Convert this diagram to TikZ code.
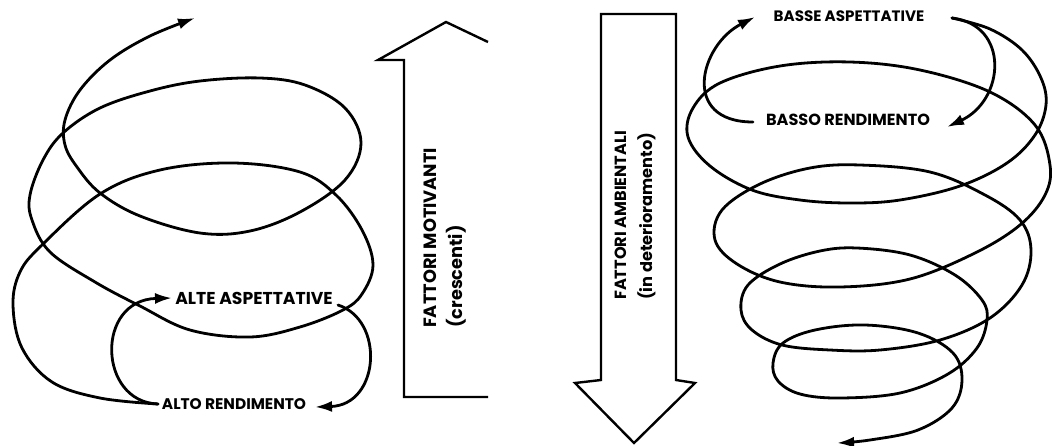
\documentclass[tikz,border=0pt]{standalone}
\usepackage{fontspec}
\setmainfont{Poppins}
\usetikzlibrary{arrows.meta}

\begin{document}
\begin{tikzpicture}[x=1pt, y=-1pt,
  spira/.style={line width=2.8pt, line cap=round, line join=round},
  punta/.style={-{Latex[length=17pt, width=11pt]}},
  freccione/.style={line width=2.4pt, line join=miter},
  etich/.style={inner sep=0pt, font=\fontsize{#1}{20}\selectfont\bfseries},
  fattori/.style={rotate=90, align=left, inner sep=0pt, font=\fontsize{#1}{26}\selectfont\bfseries}]
\useasboundingbox (0,0) rectangle (1052,445);

% spirale di sinistra
\node[etich=17.2] (alteAsp) at (254,298) {ALTE ASPETTATIVE};
\node[etich=15.4] (altoRend) at (234,404) {ALTO RENDIMENTO};
\coordinate (altoS) at (158,404);
\coordinate (alteD) at (338,305);
\draw[spira, punta] (altoS) .. controls (98,402) and (95,300) .. (172,298);
\draw[spira, punta] (alteD) .. controls (385,320) and (380,405) .. (315,407);
\draw[spira, punta] plot[smooth, tension=0.6] coordinates {(altoS) (100,398) (52,382) (22,348) (13,305)
  (20,272) (42,245) (100,194) (160,170) (233,163) (300,172) (336,195) (362,230) (373,265) (362,294)
  (343,310) (300,327) (250,337) (190,330) (140,306) (95,282) (50,252) (32,220) (30,195) (43,160)
  (63,133) (100,108) (150,91) (200,81) (260,78) (305,85) (345,108) (361,143) (345,180) (300,212)
  (250,231) (200,233) (140,216) (100,193) (77,167) (65,145) (65,120) (80,90) (110,60) (150,36) (195,18)};

% freccia in salita
\draw[freccione] (488,397) -- (404,397) -- (404,60) -- (378,60) -- (446,22) -- (488,42);
\node[fattori=17.8, anchor=west] (motiv) at (445,328) {FATTORI MOTIVANTI\\(crescenti)};

% freccia in discesa
\draw[freccione] (601,14) -- (676,14) -- (676,380) -- (695,383) -- (634,443) -- (575,383) -- (601,380) -- cycle;
\node[fattori=16.2, anchor=west] (ambient) at (635,300) {FATTORI AMBIENTALI\\(in deterioramento)};

% spirale di destra
\node[etich=15.1] (basseAsp) at (849,16) {BASSE ASPETTATIVE};
\node[etich=16.1] (bassoRend) at (848,120) {BASSO RENDIMENTO};
\coordinate (basseD) at (952,18);
\coordinate (bassoS) at (753,122);
\draw[spira, punta] (bassoS) .. controls (680,122) and (700,45) .. (755,17);
\draw[spira, punta] (basseD) .. controls (1010,25) and (1005,100) .. (947,127);
\draw[spira, punta] plot[smooth, tension=0.6] coordinates {(basseD) (990,29) (1022,50) (1041,78)
  (1046,105) (1035,135) (1007,163) (960,186) (900,200) (850,203) (800,200) (752,190) (710,166)
  (688,137) (693,108) (720,83) (780,66) (850,62) (920,70) (990,92) (1035,125) (1050,165) (1045,195)
  (1020,225) (975,253) (910,279) (840,287) (780,282) (737,264) (715,240) (722,210) (760,184)
  (810,168) (860,165) (930,172) (985,195) (1020,220) (1031,250) (1022,285) (990,318) (940,340)
  (880,350) (830,350) (782,345) (752,330) (741,310) (748,285) (780,264) (820,251) (857,248)
  (910,255) (955,275) (982,300) (987,320) (977,348) (948,374) (900,393) (840,398) (800,394)
  (778,381) (773,363) (783,343) (815,330) (865,325) (918,333) (953,353) (962,380) (952,408)
  (918,430) (870,440) (837,443)};
\end{tikzpicture}
\end{document}
